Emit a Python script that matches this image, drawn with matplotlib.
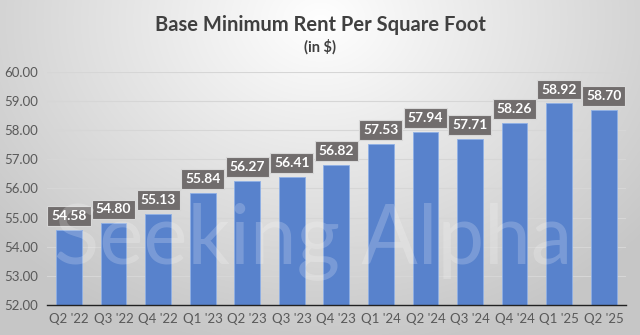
import numpy as np
import matplotlib.pyplot as plt

quarters = ["Q2 '22", "Q3 '22", "Q4 '22", "Q1 '23", "Q2 '23", "Q3 '23", "Q4 '23",
            "Q1 '24", "Q2 '24", "Q3 '24", "Q4 '24", "Q1 '25", "Q2 '25"]
rent = [54.58, 54.80, 55.13, 55.84, 56.27, 56.41, 56.82,
        57.53, 57.94, 57.71, 58.26, 58.92, 58.70]
y_ticks = [52, 53, 54, 55, 56, 57, 58, 59, 60]

plt.rcParams['font.family'] = ['Lato', 'DejaVu Sans']

fig = plt.figure(figsize=(6.4, 3.35), dpi=100)

# radial gradient background
bg = fig.add_axes([0, 0, 1, 1], zorder=-10)
yy, xx = np.mgrid[0:335, 0:640]
r = np.sqrt(((xx - 320) / 420.0) ** 2 + ((yy - 20) / 330.0) ** 2)
shade = np.clip(1.0 - 0.22 * r, 0.78, 1.0)
bg.imshow(np.dstack([shade] * 3), aspect='auto', extent=[0, 1, 0, 1])
bg.axis('off')

ax = fig.add_axes([0.073, 0.09, 0.905, 0.695])
ax.patch.set_alpha(0)
x = np.arange(len(quarters))
ax.bar(x, rent, width=0.58, color='#5882cc', edgecolor='#8fb0e6', linewidth=0.6, zorder=2)

ax.set_ylim(52, 60)
ax.set_xlim(-0.5, len(quarters) - 0.5)
ax.set_yticks(y_ticks)
ax.set_yticklabels([f"{v:.2f}" for v in y_ticks])
ax.set_xticks(x)
ax.set_xticklabels(quarters)
ax.tick_params(length=0, labelsize=9.5, colors='#595959', pad=6)
ax.grid(axis='y', color='#d6d6d6', linewidth=0.8, zorder=0)
for s in ['top', 'right', 'left']:
    ax.spines[s].set_visible(False)
ax.spines['bottom'].set_color('#222222')
ax.spines['bottom'].set_linewidth(1.0)

# watermark (behind labels)
fig.text(0.085, 0.215, 'Seeking Alpha', fontsize=60, color='white', alpha=0.2,
         ha='left', va='baseline', zorder=1)

for xi, v in zip(x, rent):
    ax.annotate(f"{v:.2f}", (xi, v), xytext=(0, 10), textcoords='offset points',
                ha='center', va='center', color='white', fontsize=10, fontweight='bold',
                bbox=dict(boxstyle='square,pad=0.28', fc='#716d6d', ec='#d8d8d8', lw=0.8),
                zorder=4)

fig.text(0.5, 0.925, 'Base Minimum Rent Per Square Foot', ha='center', va='center',
         fontsize=14.5, fontweight='bold', color='#404040')
fig.text(0.5, 0.86, '(in $)', ha='center', va='center',
         fontsize=10.5, fontweight='bold', color='#404040')

fig.savefig('out.png', dpi=100)
